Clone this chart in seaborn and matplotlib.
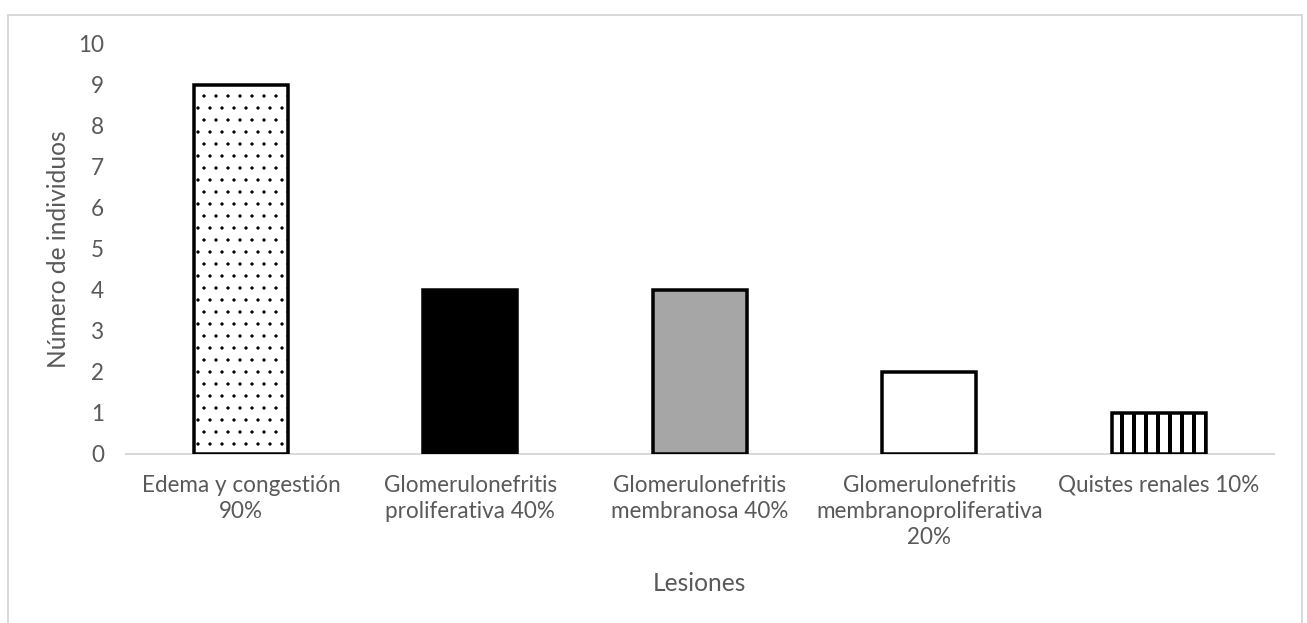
import matplotlib
matplotlib.use("Agg")
import matplotlib.pyplot as plt
import matplotlib.patches as mpatches
import seaborn as sns
import pandas as pd

# Lesion categories and number of individuals
lesiones = [
    "Edema y congestión\n90%",
    "Glomerulonefritis\nproliferativa 40%",
    "Glomerulonefritis\nmembranosa 40%",
    "Glomerulonefritis\nmembranoproliferativa\n20%",
    "Quistes renales 10%",
]
individuos = [9, 4, 4, 2, 1]
relleno = ["white", "black", "#A6A6A6", "white", "white"]
tramas = [".", "", "", "", "|"]
y_ticks = list(range(0, 11))

DPI = 72  # 1 pt == 1 px; hatch tile is 72 px
W, H = 1307, 623

sns.set_theme(style="white")
plt.rcParams["font.family"] = ["Lato", "DejaVu Sans"]
plt.rcParams["hatch.linewidth"] = 0.8
plt.rcParams["hatch.color"] = "#333333"

df = pd.DataFrame({"Lesiones": lesiones, "Individuos": individuos})

fig = plt.figure(figsize=(W / DPI, H / DPI), dpi=DPI)
ax = fig.add_axes([0.0965, 0.2713, 0.878, 0.6581])

sns.barplot(data=df, x="Lesiones", y="Individuos", ax=ax, width=0.41,
            color="white", edgecolor="black", linewidth=3.5)

for bar, fc, h in zip(ax.patches, relleno, tramas):
    bar.set_facecolor(fc)
    bar.set_hatch(h)
    bar.set_edgecolor("black")
    if h == "|" and hasattr(bar, "set_hatch_linewidth"):
        bar.set_hatch_linewidth(4.0)

ax.set_ylim(0, 10)
ax.set_yticks(y_ticks)
ax.set_xlim(-0.5, len(lesiones) - 0.5)

for side in ["left", "right", "top"]:
    ax.spines[side].set_visible(False)
ax.spines["bottom"].set_color("#D9D9D9")
ax.spines["bottom"].set_linewidth(2)
ax.spines["bottom"].set_zorder(0)

ax.tick_params(axis="both", length=0, labelsize=22.5, labelcolor="#595959")
ax.tick_params(axis="x", pad=21)
ax.tick_params(axis="y", pad=22)
for lbl in ax.get_xticklabels():
    lbl.set_linespacing(1.3)
ax.set_xlabel("Lesiones", fontsize=24.5, color="#595959", labelpad=24)
ax.set_ylabel("Número de individuos", fontsize=24.5, color="#595959", labelpad=8)

# Light frame around the chart area
frame = mpatches.Rectangle((8 / W, -0.05), (W - 13) / W, 1.05 - 15 / H,
                           transform=fig.transFigure, fill=False,
                           edgecolor="#D9D9D9", linewidth=2)
fig.patches.append(frame)

fig.savefig("out.png", dpi=DPI, facecolor="white")
